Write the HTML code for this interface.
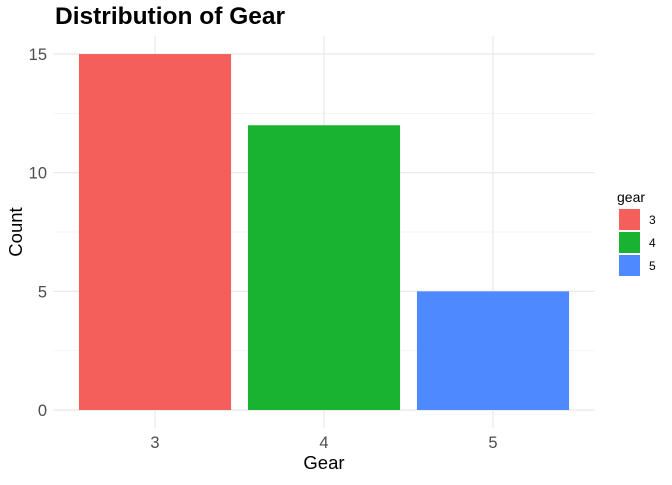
<!DOCTYPE html>
<html><head><meta charset="utf-8"><style>
body{margin:0;background:#fff;font-family:"Liberation Sans",Arial,sans-serif;}
svg text{font-family:"Liberation Sans",Arial,sans-serif;}
</style></head><body>
<svg id="chart" width="672" height="480" xmlns="http://www.w3.org/2000/svg">
<rect width="672" height="480" fill="#fff"/>
<text x="55" y="24" font-size="24.5" font-weight="bold" fill="#000">Distribution of Gear</text>
<g id="grid"></g><g id="bars"></g><g id="axes"></g><g id="legend"></g>
<text x="324" y="469" font-size="18.5" text-anchor="middle" fill="#000">Gear</text>
<text transform="translate(22,232) rotate(-90)" font-size="18.5" text-anchor="middle" fill="#000">Count</text>
</svg>
<script>
const categories=["3","4","5"];
const counts=[15,12,5];
const colors=["#F45F5B","#19B231","#4E89FF"];
const yTicks=[0,5,10,15];
const NS="http://www.w3.org/2000/svg";
const pLeft=53.6,pRight=594.6,step=169,y0=410,ppu=23.73;
const yMax=Math.max(...counts)*1.05,yMin=-Math.max(...counts)*0.05;
const ys=v=>y0-v*ppu;
const xs=i=>pLeft+0.6*step+i*step;
function mk(t,a,p){const e=document.createElementNS(NS,t);for(const k in a)e.setAttribute(k,a[k]);p.appendChild(e);return e;}
const grid=document.getElementById('grid'),bars=document.getElementById('bars'),axes=document.getElementById('axes'),leg=document.getElementById('legend');
const yTop=ys(yMax),yBot=ys(yMin);
for(let k=0;k<yTicks.length-1;k++){const v=(yTicks[k]+yTicks[k+1])/2;
const l=mk('line',{x1:pLeft,x2:pRight,y1:ys(v),y2:ys(v),stroke:'#f2f2f2','stroke-width':0.7},grid);

}
yTicks.forEach(v=>{const l=mk('line',{x1:pLeft,x2:pRight,y1:ys(v),y2:ys(v),stroke:'#ebebeb','stroke-width':1.4},grid);


const t=mk('text',{x:47,y:ys(v)+6,'font-size':16.5,'text-anchor':'end',fill:'#4d4d4d'},axes);t.textContent=v;

});
categories.forEach((c,i)=>{const l=mk('line',{x1:xs(i),x2:xs(i),y1:yTop,y2:yBot,stroke:'#ebebeb','stroke-width':1.4},grid);


const w=step*0.9;
const r=mk('rect',{x:xs(i)-w/2,y:ys(counts[i]),width:w,height:ys(0)-ys(counts[i]),fill:colors[i]},bars);


const t=mk('text',{x:xs(i),y:448,'font-size':16.5,'text-anchor':'middle',fill:'#4d4d4d'},axes);t.textContent=c;


const k=mk('rect',{x:619,y:209+i*23,width:21,height:21,fill:colors[i]},leg);


const lt=mk('text',{x:649,y:224+i*23,'font-size':12,fill:'#000'},leg);lt.textContent=c;

});
const lt=mk('text',{x:617,y:202,'font-size':14,fill:'#000'},leg);lt.textContent='gear';


</script>
</body></html>
